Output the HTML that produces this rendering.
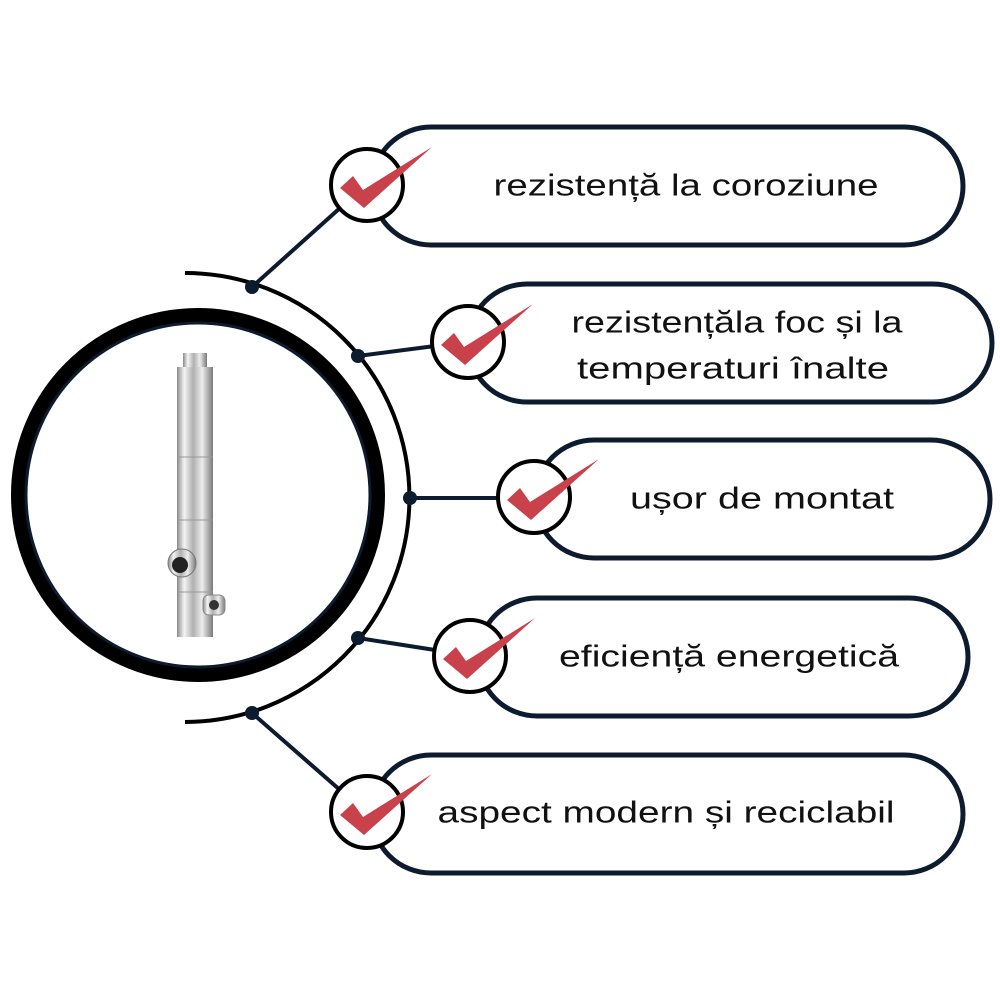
<!DOCTYPE html>
<html><head><meta charset="utf-8"><style>
html,body{margin:0;padding:0;background:#fff;}
svg{display:block}
text{font-family:"Liberation Sans",sans-serif;font-size:31px;fill:#111;text-anchor:middle;dominant-baseline:central}
</style></head><body>
<svg width="1000" height="1000" viewBox="0 0 1000 1000">
<defs>
<linearGradient id="st" x1="0" x2="1">
<stop offset="0" stop-color="#8a8a8a"/><stop offset="0.2" stop-color="#f4f4f4"/><stop offset="0.45" stop-color="#b0b0b0"/><stop offset="0.7" stop-color="#ececec"/><stop offset="1" stop-color="#7a7a7a"/>
</linearGradient>
</defs>
<circle cx="198" cy="495" r="180" fill="#fff" stroke="#000" stroke-width="14"/>
<circle cx="198" cy="495" r="172" fill="none" stroke="#0d1b2e" stroke-width="3"/>
<rect x="183" y="353" width="24" height="14" fill="url(#st)"/>
<rect x="177" y="367" width="36" height="270" fill="url(#st)"/>
<line x1="177" y1="457" x2="213" y2="457" stroke="#999"/>
<line x1="177" y1="520" x2="213" y2="520" stroke="#999"/>
<line x1="177" y1="592" x2="213" y2="592" stroke="#999"/>
<circle cx="182" cy="563" r="14" fill="url(#st)" stroke="#777"/>
<circle cx="180" cy="565" r="8" fill="#222"/>
<rect x="203" y="595" width="22" height="20" rx="6" fill="url(#st)" stroke="#888"/>
<circle cx="214" cy="605" r="5" fill="#333"/>
<path d="M185 273 A224 224 0 0 1 185 722" fill="none" stroke="#000" stroke-width="4"/>
<g stroke="#0d1b2e" stroke-width="4">
<line x1="252" y1="287" x2="340" y2="208"/>
<line x1="358" y1="356" x2="435" y2="346"/>
<line x1="410" y1="498" x2="500" y2="498"/>
<line x1="358" y1="638" x2="435" y2="650"/>
<line x1="252" y1="713" x2="340" y2="790"/>
</g>
<g fill="#0d1b2e">
<circle cx="252" cy="287" r="7"/><circle cx="358" cy="356" r="7"/><circle cx="410" cy="498" r="7"/><circle cx="358" cy="638" r="7"/><circle cx="252" cy="713" r="7"/>
</g>
<g fill="#fff" stroke="#0d1b2e" stroke-width="5">
<rect x="372" y="127" width="591" height="118" rx="59"/>
<rect x="468" y="284" width="524" height="118" rx="59"/>
<rect x="535" y="440" width="455" height="118" rx="59"/>
<rect x="478" y="598" width="490" height="118" rx="59"/>
<rect x="372" y="755" width="591" height="118" rx="59"/>
</g>
<g id="c1">
<circle cx="367" cy="185" r="36" fill="#fff" stroke="#000" stroke-width="4"/>
<polygon points="340,188 353,176 363,190 432,147 364,208" fill="#c9414a"/>
</g>
<use href="#c1" transform="translate(101,157)"/>
<use href="#c1" transform="translate(167,312)"/>
<use href="#c1" transform="translate(103,471)"/>
<use href="#c1" transform="translate(0,627)"/>
<text x="686" y="185" textLength="385" lengthAdjust="spacingAndGlyphs">rezistență la coroziune</text>
<text x="737" y="322" textLength="331" lengthAdjust="spacingAndGlyphs">rezistențăla foc și la</text>
<text x="733" y="368" textLength="312" lengthAdjust="spacingAndGlyphs">temperaturi înalte</text>
<text x="762" y="498" textLength="264" lengthAdjust="spacingAndGlyphs">ușor de montat</text>
<text x="729" y="656" textLength="340" lengthAdjust="spacingAndGlyphs">eficiență energetică</text>
<text x="666" y="812" textLength="457" lengthAdjust="spacingAndGlyphs">aspect modern și reciclabil</text>
</svg>
</body></html>
